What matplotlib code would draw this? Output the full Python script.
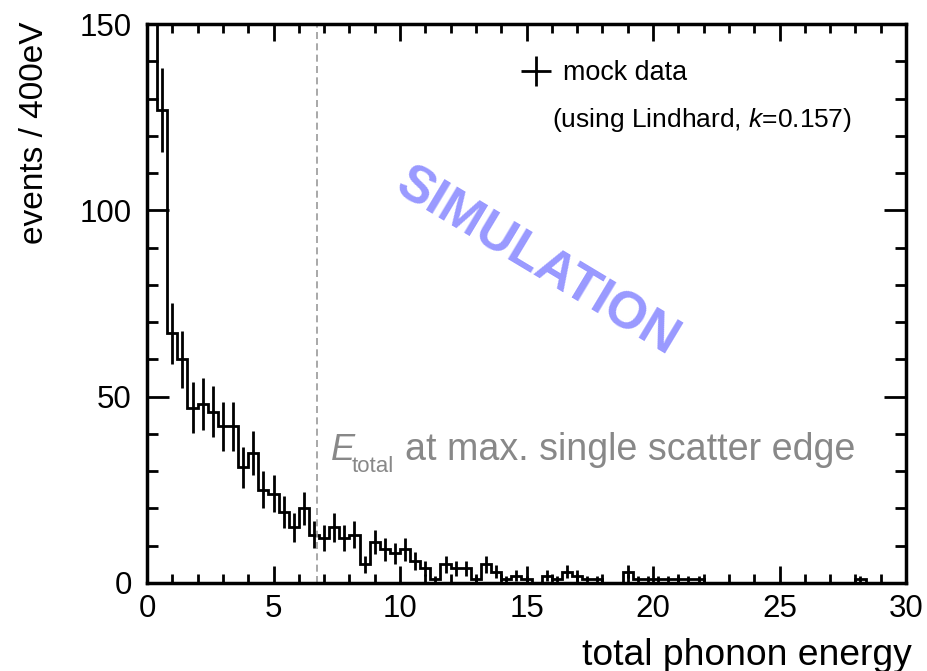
import numpy as np
import matplotlib
matplotlib.use('Agg')
import matplotlib.pyplot as plt
from matplotlib.lines import Line2D
from matplotlib.ticker import MultipleLocator

plt.rcParams['font.family'] = ['Liberation Sans', 'DejaVu Sans']
plt.rcParams['mathtext.fontset'] = 'custom'
plt.rcParams['mathtext.rm'] = 'Liberation Sans'
plt.rcParams['mathtext.it'] = 'Liberation Sans:italic'

# histogram contents, 400 eV bins from 0 to 30
bin_width = 0.4
counts = [170, 127, 67, 60, 47, 48, 46, 42, 42, 31,
          35, 25, 24, 19, 15, 20, 13, 12, 15, 12,
          13, 5, 11, 9, 8, 9, 6, 4, 1, 5,
          4, 4, 1, 5, 3, 1, 2, 1, 0, 2,
          1, 3, 2, 1, 1, 0, 0, 3, 1, 1,
          1, 1, 1, 1, 1, 0, 0, 0, 0, 0,
          0, 0, 0, 0, 0, 0, 0, 0, 0, 0,
          1, 0, 0, 0, 0]
edge_energy = 6.7   # E_total at max. single scatter edge

counts = np.array(counts, dtype=float)
edges = np.arange(len(counts) + 1) * bin_width
centers = 0.5 * (edges[:-1] + edges[1:])
errors = np.sqrt(counts)

fig = plt.figure(figsize=(9.27, 6.71), dpi=100)
ax = fig.add_axes([147/927, 1 - 583/671, 759/927, 559/671])

ax.errorbar(centers, counts, yerr=errors, fmt='none', ecolor='k', elinewidth=2, capsize=0)
ax.stairs(counts, edges, color='k', lw=2)
ax.axvline(edge_energy, color='#999999', lw=1.2, dashes=(4.2, 2.6))

ax.set_xlim(0, 30)
ax.set_ylim(0, 150)
ax.xaxis.set_major_locator(MultipleLocator(5))
ax.xaxis.set_minor_locator(MultipleLocator(1))
ax.yaxis.set_major_locator(MultipleLocator(50))
ax.yaxis.set_minor_locator(MultipleLocator(10))

for s in ax.spines.values():
    s.set_linewidth(2.5)
ax.tick_params(which='both', direction='in', top=True, right=True, width=2, labelsize=22.5)
ax.tick_params(axis='x', which='major', length=12, pad=8)
ax.tick_params(axis='x', which='minor', length=6.5)
ax.tick_params(axis='y', which='major', length=16, pad=11)
ax.tick_params(axis='y', which='minor', length=8)

# axis titles (ROOT style, at the axis ends)
ax.text(1.008, -0.129, 'total phonon energy', transform=ax.transAxes,
        ha='right', va='center', fontsize=26.8)
ax.text(-0.1476, 1.004, 'events / 400eV', transform=ax.transAxes,
        rotation=90, ha='center', va='top', fontsize=24)

# legend
handle = Line2D([], [], color='k', marker='+', ls='none', markersize=22, mew=2)
ax.legend([handle], ['mock data'], loc='center left', bbox_to_anchor=(0.491, 0.912),
          frameon=False, fontsize=19.4, handlelength=1.2, handletextpad=0.4,
          borderpad=0, borderaxespad=0)
ax.text(0.929, 0.828, '(using Lindhard, $k$=0.157)', transform=ax.transAxes,
        ha='right', va='center', fontsize=19)

ax.text(0.514, 0.574, 'SIMULATION', transform=ax.transAxes, rotation=-31,
        rotation_mode='anchor', ha='center', va='center',
        fontsize=37.5, fontweight='bold', color='#9999ff')

# grey annotation: E with a small lowered "total" subscript
ax.text(0.241, 0.22, r'$E$', transform=ax.transAxes, ha='left', va='baseline',
        fontsize=26, color='#888888')
ax.text(0.269, 0.198, 'total', transform=ax.transAxes, ha='left', va='baseline',
        fontsize=16, color='#888888')
ax.text(0.3395, 0.22, 'at max. single scatter edge', transform=ax.transAxes,
        ha='left', va='baseline', fontsize=27.1, color='#888888')

fig.savefig('out.png', dpi=100)
